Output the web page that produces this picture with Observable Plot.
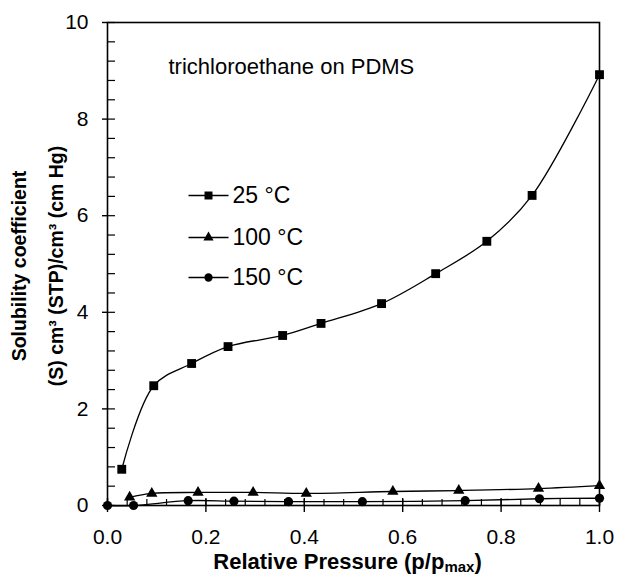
<!DOCTYPE html>
<html>
<head>
<meta charset="utf-8">
<script src="https://cdn.jsdelivr.net/npm/d3@7"></script>
<script src="https://cdn.jsdelivr.net/npm/@observablehq/plot@0.6"></script>
<style>
  html, body { margin: 0; padding: 0; background: #fff; }
  #chart svg { display: block; }
</style>
</head>
<body>
<div id="chart"></div>
<script>
// ---- data ----
const series = ["25 °C", "100 °C", "150 °C"];
const p25  = [0.029, 0.094, 0.171, 0.245, 0.356, 0.434, 0.557, 0.667, 0.771, 0.863, 1.0];
const s25  = [0.75, 2.48, 2.94, 3.29, 3.52, 3.77, 4.18, 4.80, 5.47, 6.42, 8.92];
const p100 = [0.045, 0.09, 0.184, 0.296, 0.404, 0.58, 0.714, 0.876, 1.0];
const s100 = [0.17, 0.25, 0.27, 0.27, 0.25, 0.29, 0.31, 0.35, 0.41];
const p150 = [0, 0.053, 0.164, 0.257, 0.368, 0.518, 0.727, 0.878, 1.0];
const s150 = [0, 0, 0.10, 0.09, 0.08, 0.08, 0.10, 0.14, 0.15];
const xMajor = [0, 0.2, 0.4, 0.6, 0.8, 1.0];
const xMinor = d3.range(0, 1.0001, 0.04);
const yMajor = [0, 2, 4, 6, 8, 10];
const yMinor = d3.range(0, 10.001, 0.4);
const title = "trichloroethane on PDMS";
const xLabel = "Relative Pressure (p/pmax)";
const yLabel = "Solubility coefficient\n(S) cm³ (STP)/cm³ (cm Hg)";

const symbols = ["square", "triangle", "circle"];
const radii = [5, 4.2, 4.6];

const rows = [
  ...p25.map((p, i) => ({series: series[0], p, s: s25[i]})),
  ...p100.map((p, i) => ({series: series[1], p, s: s100[i]})),
  ...p150.map((p, i) => ({series: series[2], p, s: s150[i]}))
];
const legend = series.map((name, i) => ({name, i}));

const W = 617, H = 576;
const mL = 107, mR = 18, mT = 22, mB = 71;
const plotW = W - mL - mR, plotH = H - mT - mB;
const font = "'Liberation Sans', Arial, Helvetica, sans-serif";

const lineSym = {draw(ctx) { ctx.moveTo(-20, 0); ctx.lineTo(20, 0); }};

const marks = [];
series.forEach((name, i) => {
  const data = rows.filter(d => d.series === name);
  marks.push(Plot.line(data, {x: "p", y: "s", curve: "catmull-rom", stroke: "black", strokeWidth: 1.3}));
  marks.push(Plot.dot(data, {x: "p", y: "s", symbol: symbols[i], r: radii[i], fill: "black", stroke: "none"}));
});

// legend
const legDy = [173, 215, 255];
legend.forEach(({name, i}) => {
  marks.push(Plot.dot([name], {frameAnchor: "top-left", dx: 101, dy: legDy[i], symbol: lineSym, stroke: "black", strokeWidth: 1.3, fill: "none", r: 1}));
  marks.push(Plot.dot([name], {frameAnchor: "top-left", dx: 101, dy: legDy[i], symbol: symbols[i], r: radii[i] * 0.9, fill: "black"}));
  marks.push(Plot.text([name], {text: d => d, frameAnchor: "top-left", dx: 125, dy: legDy[i], textAnchor: "start", lineAnchor: "middle", fontSize: 23, fill: "black"}));
});

marks.push(
  // inward minor/major ticks
  Plot.tickX(xMinor, {x: d => d, insetTop: plotH - 6, stroke: "black", strokeWidth: 1.2}),
  Plot.tickX(xMajor, {x: d => d, insetTop: plotH - 7, stroke: "black", strokeWidth: 1.4}),
  Plot.tickY(yMinor, {y: d => d, insetRight: plotW - 8, stroke: "black", strokeWidth: 1.2}),
  Plot.axisX({ticks: xMajor, tickSize: 7, tickPadding: 17, tickFormat: d3.format(".1f"), fontSize: 21, label: null, strokeWidth: 1.4}),
  Plot.axisY({ticks: yMajor, tickSize: 5, tickPadding: 14, tickFormat: d3.format("d"), fontSize: 21, label: null, strokeWidth: 1.4}),
  Plot.frame({stroke: "black", strokeWidth: 1.6}),
  Plot.text([title], {text: d => d, frameAnchor: "top-left", dx: 61, dy: 44, textAnchor: "start", lineAnchor: "middle", fontSize: 22, fill: "black"}),
  Plot.text([xLabel], {text: d => d, frameAnchor: "bottom", dx: -6, dy: 56, lineAnchor: "middle", fontSize: 22, fontWeight: "bold", fill: "black"}),
  Plot.text([yLabel], {text: d => d, frameAnchor: "left", textAnchor: "middle", lineAnchor: "middle", dx: -75, dy: 2, rotate: -90, lineHeight: 1.9, fontSize: 19.5, fontWeight: "bold", fill: "black"})
);

const chart = Plot.plot({
  width: W, height: H,
  marginLeft: mL, marginRight: mR, marginTop: mT, marginBottom: mB,
  style: {fontFamily: font, background: "white", color: "black"},
  x: {domain: [0, 1]},
  y: {domain: [0, 10]},
  marks
});
document.getElementById("chart").appendChild(chart);

// subscript "max" in the x-axis label
d3.select(chart).selectAll("text").each(function() {
  const t = d3.select(this);
  if (t.text() === xLabel) {
    t.text(null);
    t.append("tspan").text("Relative Pressure (p/p");
    t.append("tspan").attr("font-size", "15").attr("dy", "3").text("max");
    t.append("tspan").attr("dy", "-3").text(")");
  }
});
</script>
</body>
</html>
